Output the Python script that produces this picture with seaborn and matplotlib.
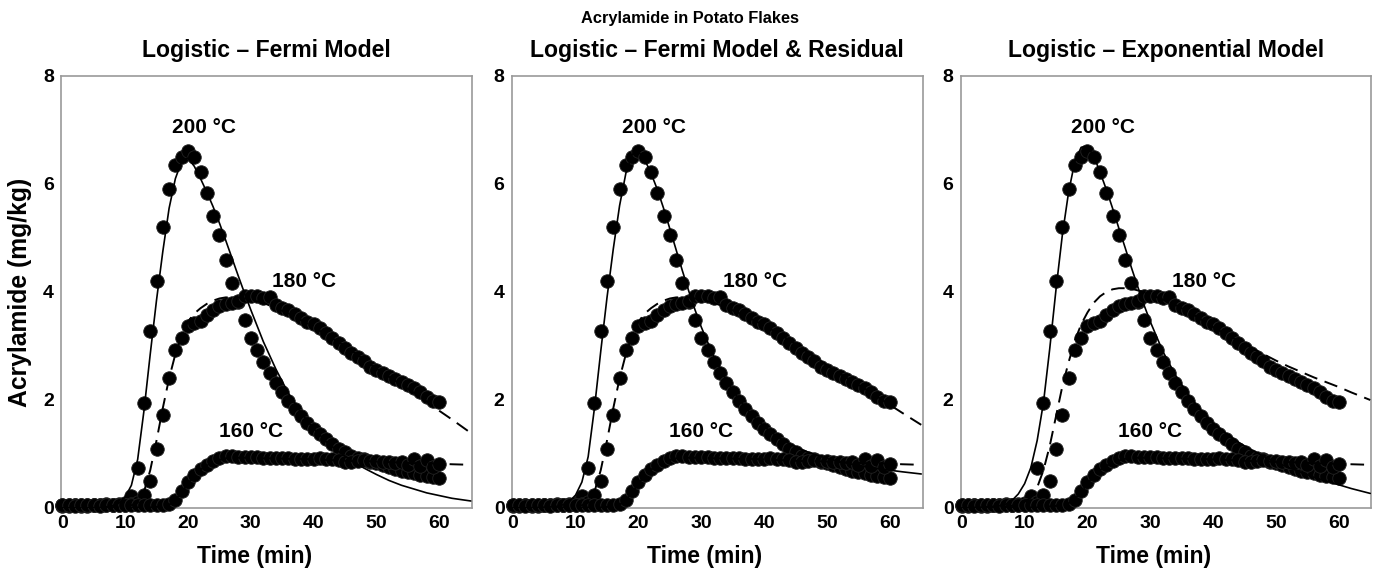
import numpy as np
import pandas as pd
import matplotlib
matplotlib.use("Agg")
import matplotlib.pyplot as plt
import seaborn as sns

# ---------------- data ----------------
titles = ["Logistic \u2013 Fermi Model",
          "Logistic \u2013 Fermi Model & Residual",
          "Logistic \u2013 Exponential Model"]
suptitle = "Acrylamide in Potato Flakes"
x_ticks = [0, 10, 20, 30, 40, 50, 60]
y_ticks = [0, 2, 4, 6, 8]

# measured data (time in min, acrylamide mg/kg)
t_data = list(range(0, 61))
y200 = [0.04, 0.05, 0.05, 0.04, 0.05, 0.06, 0.05, 0.07, 0.06, 0.08, 0.10,
        0.22, 0.75, 1.95, 3.28, 4.20, 5.20, 5.90, 6.35, 6.50, 6.62,
        6.50, 6.22, 5.84, 5.41, 5.05, 4.60, 4.17, 3.82, 3.49, 3.14,
        2.93, 2.70, 2.50, 2.32, 2.14, 1.98, 1.84, 1.70, 1.58, 1.47,
        1.37, 1.27, 1.18, 1.10, 1.03, 0.97, 0.93, 0.90, 0.86, 0.83,
        0.80, 0.76, 0.72, 0.69, 0.67, 0.64, 0.62, 0.60, 0.58, 0.56]
y180 = [0.05, 0.04, 0.05, 0.05, 0.04, 0.05, 0.05, 0.06, 0.05, 0.05, 0.06,
        0.08, 0.12, 0.24, 0.50, 1.10, 1.72, 2.40, 2.93, 3.14, 3.37,
        3.42, 3.46, 3.58, 3.66, 3.74, 3.78, 3.80, 3.84, 3.92, 3.93,
        3.92, 3.88, 3.90, 3.76, 3.70, 3.66, 3.60, 3.52, 3.45, 3.40,
        3.33, 3.24, 3.14, 3.05, 2.96, 2.87, 2.80, 2.72, 2.62, 2.56,
        2.50, 2.44, 2.38, 2.33, 2.27, 2.22, 2.15, 2.06, 1.98, 1.96]
y160 = [0.05, 0.05, 0.04, 0.05, 0.05, 0.05, 0.04, 0.05, 0.05, 0.05, 0.05,
        0.05, 0.05, 0.05, 0.05, 0.05, 0.06, 0.08, 0.15, 0.32, 0.49,
        0.62, 0.72, 0.80, 0.87, 0.92, 0.96, 0.97, 0.95, 0.94, 0.95,
        0.94, 0.93, 0.93, 0.92, 0.92, 0.92, 0.91, 0.90, 0.91, 0.90,
        0.92, 0.91, 0.91, 0.89, 0.86, 0.86, 0.87, 0.88, 0.87, 0.87,
        0.86, 0.86, 0.84, 0.86, 0.80, 0.90, 0.78, 0.88, 0.76, 0.82]

# model curves
t_model = [0, 2, 4, 6, 7, 8, 9, 10, 11, 12, 13, 14, 15, 16, 17, 18, 19, 20,
           21, 22, 23, 24, 25, 26, 27, 28, 29, 30, 32, 34, 36, 38, 40, 42,
           44, 46, 48, 50, 52, 54, 56, 58, 60, 62, 65]

fermi_200 = [0, 0, 0, 0.01, 0.02, 0.04, 0.09, 0.20, 0.42, 0.90, 1.80, 2.85,
             3.85, 4.75, 5.55, 6.10, 6.42, 6.48, 6.33, 6.10, 5.85, 5.58, 5.28,
             4.96, 4.63, 4.30, 3.98, 3.67, 3.08, 2.57, 2.12, 1.76, 1.47, 1.23,
             1.04, 0.88, 0.74, 0.62, 0.51, 0.42, 0.35, 0.28, 0.23, 0.18, 0.13]
fermi_180 = [0, 0, 0, 0, 0, 0.01, 0.02, 0.03, 0.05, 0.10, 0.30, 0.70, 1.25,
             1.85, 2.40, 2.85, 3.20, 3.45, 3.60, 3.70, 3.78, 3.84, 3.88, 3.90,
             3.90, 3.90, 3.88, 3.86, 3.80, 3.70, 3.60, 3.48, 3.35, 3.21, 3.07,
             2.92, 2.75, 2.58, 2.43, 2.28, 2.13, 1.97, 1.80, 1.64, 1.39]
fermi_160 = [0, 0, 0, 0, 0, 0, 0, 0, 0, 0.01, 0.01, 0.01, 0.02, 0.03, 0.06,
             0.15, 0.29, 0.45, 0.60, 0.71, 0.79, 0.85, 0.89, 0.92, 0.93, 0.93,
             0.93, 0.93, 0.92, 0.92, 0.91, 0.91, 0.90, 0.89, 0.88, 0.87, 0.87,
             0.86, 0.85, 0.84, 0.83, 0.83, 0.82, 0.81, 0.80]

res_200 = [0, 0, 0.01, 0.02, 0.03, 0.06, 0.12, 0.24, 0.48, 0.95, 1.85, 2.90,
           3.90, 4.80, 5.60, 6.20, 6.55, 6.60, 6.45, 6.20, 5.90, 5.55, 5.17,
           4.78, 4.39, 4.02, 3.67, 3.35, 2.80, 2.36, 2.01, 1.73, 1.51, 1.33,
           1.19, 1.08, 0.99, 0.92, 0.86, 0.81, 0.77, 0.73, 0.70, 0.67, 0.63]
res_180 = [0, 0, 0, 0, 0, 0.01, 0.02, 0.03, 0.05, 0.10, 0.30, 0.70, 1.25,
           1.85, 2.40, 2.85, 3.20, 3.45, 3.60, 3.70, 3.78, 3.84, 3.88, 3.90,
           3.90, 3.90, 3.88, 3.86, 3.80, 3.71, 3.61, 3.50, 3.38, 3.25, 3.11,
           2.96, 2.80, 2.64, 2.49, 2.35, 2.21, 2.06, 1.91, 1.76, 1.54]
res_160 = fermi_160

exp_200 = [0, 0.01, 0.02, 0.04, 0.07, 0.14, 0.26, 0.45, 0.75, 1.25, 1.95,
           2.95, 4.05, 5.05, 5.85, 6.42, 6.68, 6.70, 6.52, 6.22, 5.90, 5.55,
           5.18, 4.82, 4.45, 4.10, 3.76, 3.45, 2.90, 2.46, 2.10, 1.81, 1.57,
           1.38, 1.22, 1.08, 0.96, 0.85, 0.75, 0.66, 0.57, 0.50, 0.43, 0.36,
           0.27]
exp_180 = [0, 0, 0.01, 0.02, 0.03, 0.04, 0.06, 0.10, 0.20, 0.38, 0.70, 1.15,
           1.70, 2.25, 2.70, 3.10, 3.40, 3.62, 3.80, 3.92, 4.00, 4.05, 4.07,
           4.07, 4.06, 4.03, 4.00, 3.95, 3.86, 3.76, 3.64, 3.50, 3.35, 3.22,
           3.10, 2.97, 2.85, 2.73, 2.62, 2.52, 2.42, 2.33, 2.24, 2.14, 2.00]
exp_160 = [0, 0, 0, 0, 0, 0, 0, 0, 0.01, 0.01, 0.02, 0.03, 0.04, 0.06, 0.09,
           0.17, 0.30, 0.45, 0.59, 0.70, 0.78, 0.84, 0.88, 0.91, 0.93, 0.93,
           0.93, 0.93, 0.92, 0.92, 0.91, 0.91, 0.90, 0.89, 0.88, 0.87, 0.86,
           0.86, 0.85, 0.84, 0.83, 0.82, 0.82, 0.81, 0.80]

models = [(fermi_200, fermi_180, fermi_160),
          (res_200, res_180, res_160),
          (exp_200, exp_180, exp_160)]

labels = ["200 \u00b0C", "180 \u00b0C", "160 \u00b0C"]
label_pos = [(22.5, 7.05), (38.5, 4.2), (30.0, 1.42)]

# ---------------- style ----------------
sns.set_style("white")
plt.rcParams["font.family"] = ["Liberation Sans", "DejaVu Sans"]
plt.rcParams["font.weight"] = "bold"
plt.rcParams["text.color"] = "black"
plt.rcParams["axes.labelcolor"] = "black"
plt.rcParams["xtick.labelcolor"] = "black"
plt.rcParams["ytick.labelcolor"] = "black"

df_data = pd.DataFrame({
    "t": t_data * 3,
    "y": y200 + y180 + y160,
    "series": ["200"] * len(t_data) + ["180"] * len(t_data) + ["160"] * len(t_data),
})

fig = plt.figure(figsize=(13.8, 5.69), dpi=100)
lefts = [61 / 1380, 511.5 / 1380, 960.5 / 1380]
width = 411 / 1380
bottom = (569 - 508) / 569
height = (508 - 76) / 569

spine_col = "#9a9a9a"
for i in range(3):
    ax = fig.add_axes([lefts[i], bottom, width, height])
    m200, m180, m160 = models[i]
    dfm = pd.DataFrame({"t": t_model, "y200": m200, "y180": m180, "y160": m160})

    sns.scatterplot(data=df_data, x="t", y="y", ax=ax, color="black",
                    edgecolor="#222222", linewidth=0.6, s=95, legend=False,
                    zorder=3, clip_on=False)
    sns.lineplot(data=dfm, x="t", y="y200", ax=ax, color="black",
                 linewidth=1.2, estimator=None, sort=False, zorder=4)
    sns.lineplot(data=dfm, x="t", y="y180", ax=ax, color="black",
                 linewidth=1.4, linestyle=(0, (7, 4)), estimator=None,
                 sort=False, zorder=4)
    sns.lineplot(data=dfm, x="t", y="y160", ax=ax, color="black",
                 linewidth=1.4, linestyle=(0, (7, 4)), estimator=None,
                 sort=False, zorder=4)

    ax.set_xlim(-0.2, 65.2)
    ax.set_ylim(0, 8)
    ax.set_xticks(x_ticks)
    ax.set_yticks(y_ticks)
    ax.set_xticklabels([str(v) for v in x_ticks], fontsize=14, fontweight="bold")
    ax.set_yticklabels([str(v) for v in y_ticks], fontsize=14, fontweight="bold")
    ax.tick_params(direction="in", length=4, width=1, color=spine_col, pad=5,
                   labelcolor="black")
    for sp in ax.spines.values():
        sp.set_color(spine_col)
        sp.set_linewidth(1.2)

    ax.set_xlabel("Time (min)", fontsize=16.5, fontweight="bold", color="black")
    ax.xaxis.set_label_coords(0.47, -0.085)
    if i == 0:
        ax.set_ylabel("Acrylamide (mg/kg)", fontsize=17.8, fontweight="bold",
                      color="black")
        ax.yaxis.set_label_coords(-0.07, 0.5)
    else:
        ax.set_ylabel("")
    ax.set_title(titles[i], fontsize=16.6, fontweight="bold", pad=14,
                 color="black")

    for lab, (lx, ly) in zip(labels, label_pos):
        ax.text(lx, ly, lab, fontsize=15, fontweight="bold", color="black",
                ha="center", va="center")

fig.text(0.5, 1 - 18 / 569, suptitle, ha="center", va="center",
         fontsize=11.8, fontweight="bold", color="black")

fig.savefig("out.png", dpi=100)
